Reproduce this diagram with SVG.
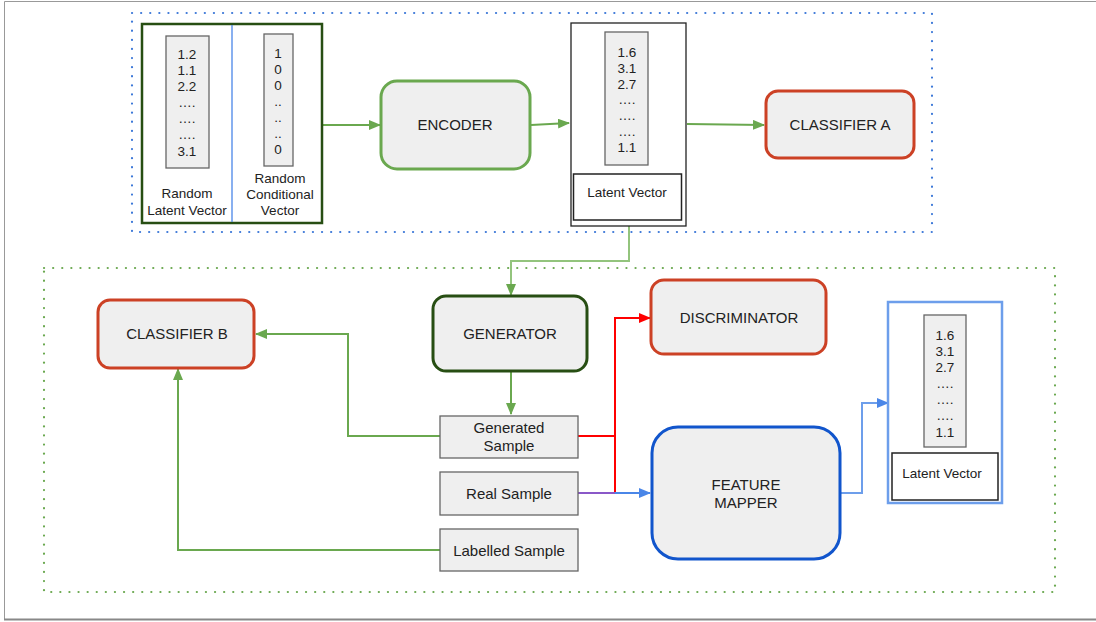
<svg xmlns="http://www.w3.org/2000/svg" width="1096" height="622" viewBox="0 0 1096 622">
<style>
text{font-family:"Liberation Sans",Arial,sans-serif;fill:#222;text-anchor:middle}
.lbl{font-size:15px}
.sm{font-size:13.5px}
.node{fill:#efefef;stroke-width:3}
.gbox{fill:#efefef;stroke:#666;stroke-width:1.3}
.wbox{fill:#fff;stroke:#222;stroke-width:1.5}
.c{fill:none;stroke-width:2}
</style>
<defs>
<marker id="ag" markerUnits="userSpaceOnUse" markerWidth="12" markerHeight="10" refX="11" refY="5" orient="auto"><path d="M0,0 L12,5 L0,10 z" fill="#6aa84f"/></marker>
<marker id="ag2" markerUnits="userSpaceOnUse" markerWidth="12" markerHeight="10" refX="11" refY="5" orient="auto"><path d="M0,0 L12,5 L0,10 z" fill="#6aa84f"/></marker>
<marker id="ar" markerUnits="userSpaceOnUse" markerWidth="12" markerHeight="10" refX="11" refY="5" orient="auto"><path d="M0,0 L12,5 L0,10 z" fill="#ff0000"/></marker>
<marker id="ab" markerUnits="userSpaceOnUse" markerWidth="12" markerHeight="10" refX="11" refY="5" orient="auto"><path d="M0,0 L12,5 L0,10 z" fill="#4a86e8"/></marker>
</defs>
<rect width="1096" height="622" fill="#fff"/>
<path d="M4.5,620 V1.5 H1096" fill="none" stroke="#999" stroke-width="1"/>
<path d="M4,619.5 H1096" fill="none" stroke="#888" stroke-width="2"/>
<g id="groups">
<rect x="132" y="13" width="800" height="219" fill="none" stroke="#3c78d8" stroke-width="2.2" stroke-linecap="round" stroke-dasharray="0.1 9"/>
<rect x="44" y="268" width="1011" height="324" fill="none" stroke="#6aa84f" stroke-width="2.2" stroke-linecap="round" stroke-dasharray="0.1 9"/>
</g>
<g id="connectors">
<line class="c" x1="323" y1="125" x2="380" y2="125" stroke="#6aa84f" marker-end="url(#ag)"/>
<line class="c" x1="531" y1="125" x2="569" y2="123" stroke="#6aa84f" marker-end="url(#ag)"/>
<line class="c" x1="687" y1="124" x2="764" y2="125" stroke="#6aa84f" marker-end="url(#ag)"/>
<path class="c" d="M629,226 V261 H511 V295" stroke="#93c47d" marker-end="url(#ag2)"/>
<line class="c" x1="511" y1="372" x2="511" y2="414" stroke="#6aa84f" marker-end="url(#ag)"/>
<path class="c" d="M440,436 H348 V334 H256" stroke="#6aa84f" marker-end="url(#ag)"/>
<path class="c" d="M440,550 H178 V369" stroke="#6aa84f" marker-end="url(#ag)"/>
<path class="c" d="M578,436 H615" stroke="#ff0000"/>
<path class="c" d="M615,493 V318 H650" stroke="#ff0000" marker-end="url(#ar)"/>
<path class="c" d="M578,493 H615" stroke="#8a58c8"/>
<path class="c" d="M615,493 H650" stroke="#4a86e8" marker-end="url(#ab)"/>
<path class="c" d="M841,493 H862 V403 H888" stroke="#6d9eeb" marker-end="url(#ab)"/>
</g>
<g id="random-vectors">
<rect x="142" y="24" width="180" height="199" fill="#fff" stroke="#274e13" stroke-width="2.5"/>
<line x1="232" y1="25" x2="232" y2="222" stroke="#4a86e8" stroke-width="1.3"/>
<rect class="gbox" x="166" y="36" width="43" height="132"/>
<text class="sm" x="187" y="59">1.2</text>
<text class="sm" x="187" y="75">1.1</text>
<text class="sm" x="187" y="91">2.2</text>
<text class="sm" x="187" y="107">….</text>
<text class="sm" x="187" y="123">….</text>
<text class="sm" x="187" y="139">….</text>
<text class="sm" x="187" y="156">3.1</text>
<text class="sm" x="187" y="198">Random</text>
<text class="sm" x="187" y="215">Latent Vector</text>
<rect class="gbox" x="264" y="34" width="29" height="132"/>
<text class="sm" x="278" y="58">1</text>
<text class="sm" x="278" y="74">0</text>
<text class="sm" x="278" y="90">0</text>
<text class="sm" x="278" y="106">..</text>
<text class="sm" x="278" y="122">..</text>
<text class="sm" x="278" y="138">..</text>
<text class="sm" x="278" y="154">0</text>
<text class="sm" x="280" y="183">Random</text>
<text class="sm" x="280" y="199">Conditional</text>
<text class="sm" x="280" y="215">Vector</text>
</g>
<g id="encoder">
<rect class="node" x="381" y="81" width="149" height="88" rx="16" stroke="#6aa84f"/>
<text class="lbl" x="455" y="130">ENCODER</text>
</g>
<g id="latent-vector-1">
<rect x="571" y="23" width="115" height="203" fill="#fff" stroke="#222" stroke-width="1.3"/>
<rect class="gbox" x="605" y="32" width="43" height="133"/>
<text class="sm" x="627" y="57">1.6</text>
<text class="sm" x="627" y="72.8">3.1</text>
<text class="sm" x="627" y="88.6">2.7</text>
<text class="sm" x="627" y="104.4">….</text>
<text class="sm" x="627" y="120.2">….</text>
<text class="sm" x="627" y="136">….</text>
<text class="sm" x="627" y="152">1.1</text>
<rect class="wbox" x="573.5" y="174" width="108" height="46"/>
<text class="sm" x="627" y="197">Latent Vector</text>
</g>
<g id="classifier-a">
<rect class="node" x="766" y="91" width="148" height="67" rx="12" stroke="#cc4125"/>
<text class="lbl" x="840" y="130">CLASSIFIER A</text>
</g>
<g id="generator">
<rect class="node" x="433" y="296" width="154" height="75" rx="13" stroke="#274e13"/>
<text class="lbl" x="510" y="339">GENERATOR</text>
</g>
<g id="discriminator">
<rect class="node" x="651" y="280" width="175" height="74" rx="13" stroke="#cc4125"/>
<text class="lbl" x="739" y="323">DISCRIMINATOR</text>
</g>
<g id="classifier-b">
<rect class="node" x="98" y="300" width="156" height="68" rx="12" stroke="#cc4125"/>
<text class="lbl" x="177" y="339">CLASSIFIER B</text>
</g>
<g id="generated-sample">
<rect class="gbox" x="440" y="416" width="138" height="42"/>
<text class="lbl" x="509" y="433">Generated</text>
<text class="lbl" x="509" y="451">Sample</text>
</g>
<g id="real-sample">
<rect class="gbox" x="440" y="472" width="138" height="43"/>
<text class="lbl" x="509" y="499">Real Sample</text>
</g>
<g id="labelled-sample">
<rect class="gbox" x="440" y="529" width="138" height="42"/>
<text class="lbl" x="509" y="556">Labelled Sample</text>
</g>
<g id="feature-mapper">
<rect class="node" x="652" y="427" width="188" height="132" rx="26" stroke="#1155cc"/>
<text class="lbl" x="746" y="490">FEATURE</text>
<text class="lbl" x="746" y="508">MAPPER</text>
</g>
<g id="latent-vector-2">
<rect x="888" y="302" width="114" height="201" fill="#fff" stroke="#6d9eeb" stroke-width="2.5"/>
<rect class="gbox" x="924" y="315" width="42" height="132"/>
<text class="sm" x="945" y="340">1.6</text>
<text class="sm" x="945" y="356">3.1</text>
<text class="sm" x="945" y="372">2.7</text>
<text class="sm" x="945" y="388">….</text>
<text class="sm" x="945" y="404">….</text>
<text class="sm" x="945" y="420">….</text>
<text class="sm" x="945" y="437">1.1</text>
<rect class="wbox" x="892" y="453" width="106" height="47"/>
<text class="sm" x="942" y="478">Latent Vector</text>
</g>
</svg>
